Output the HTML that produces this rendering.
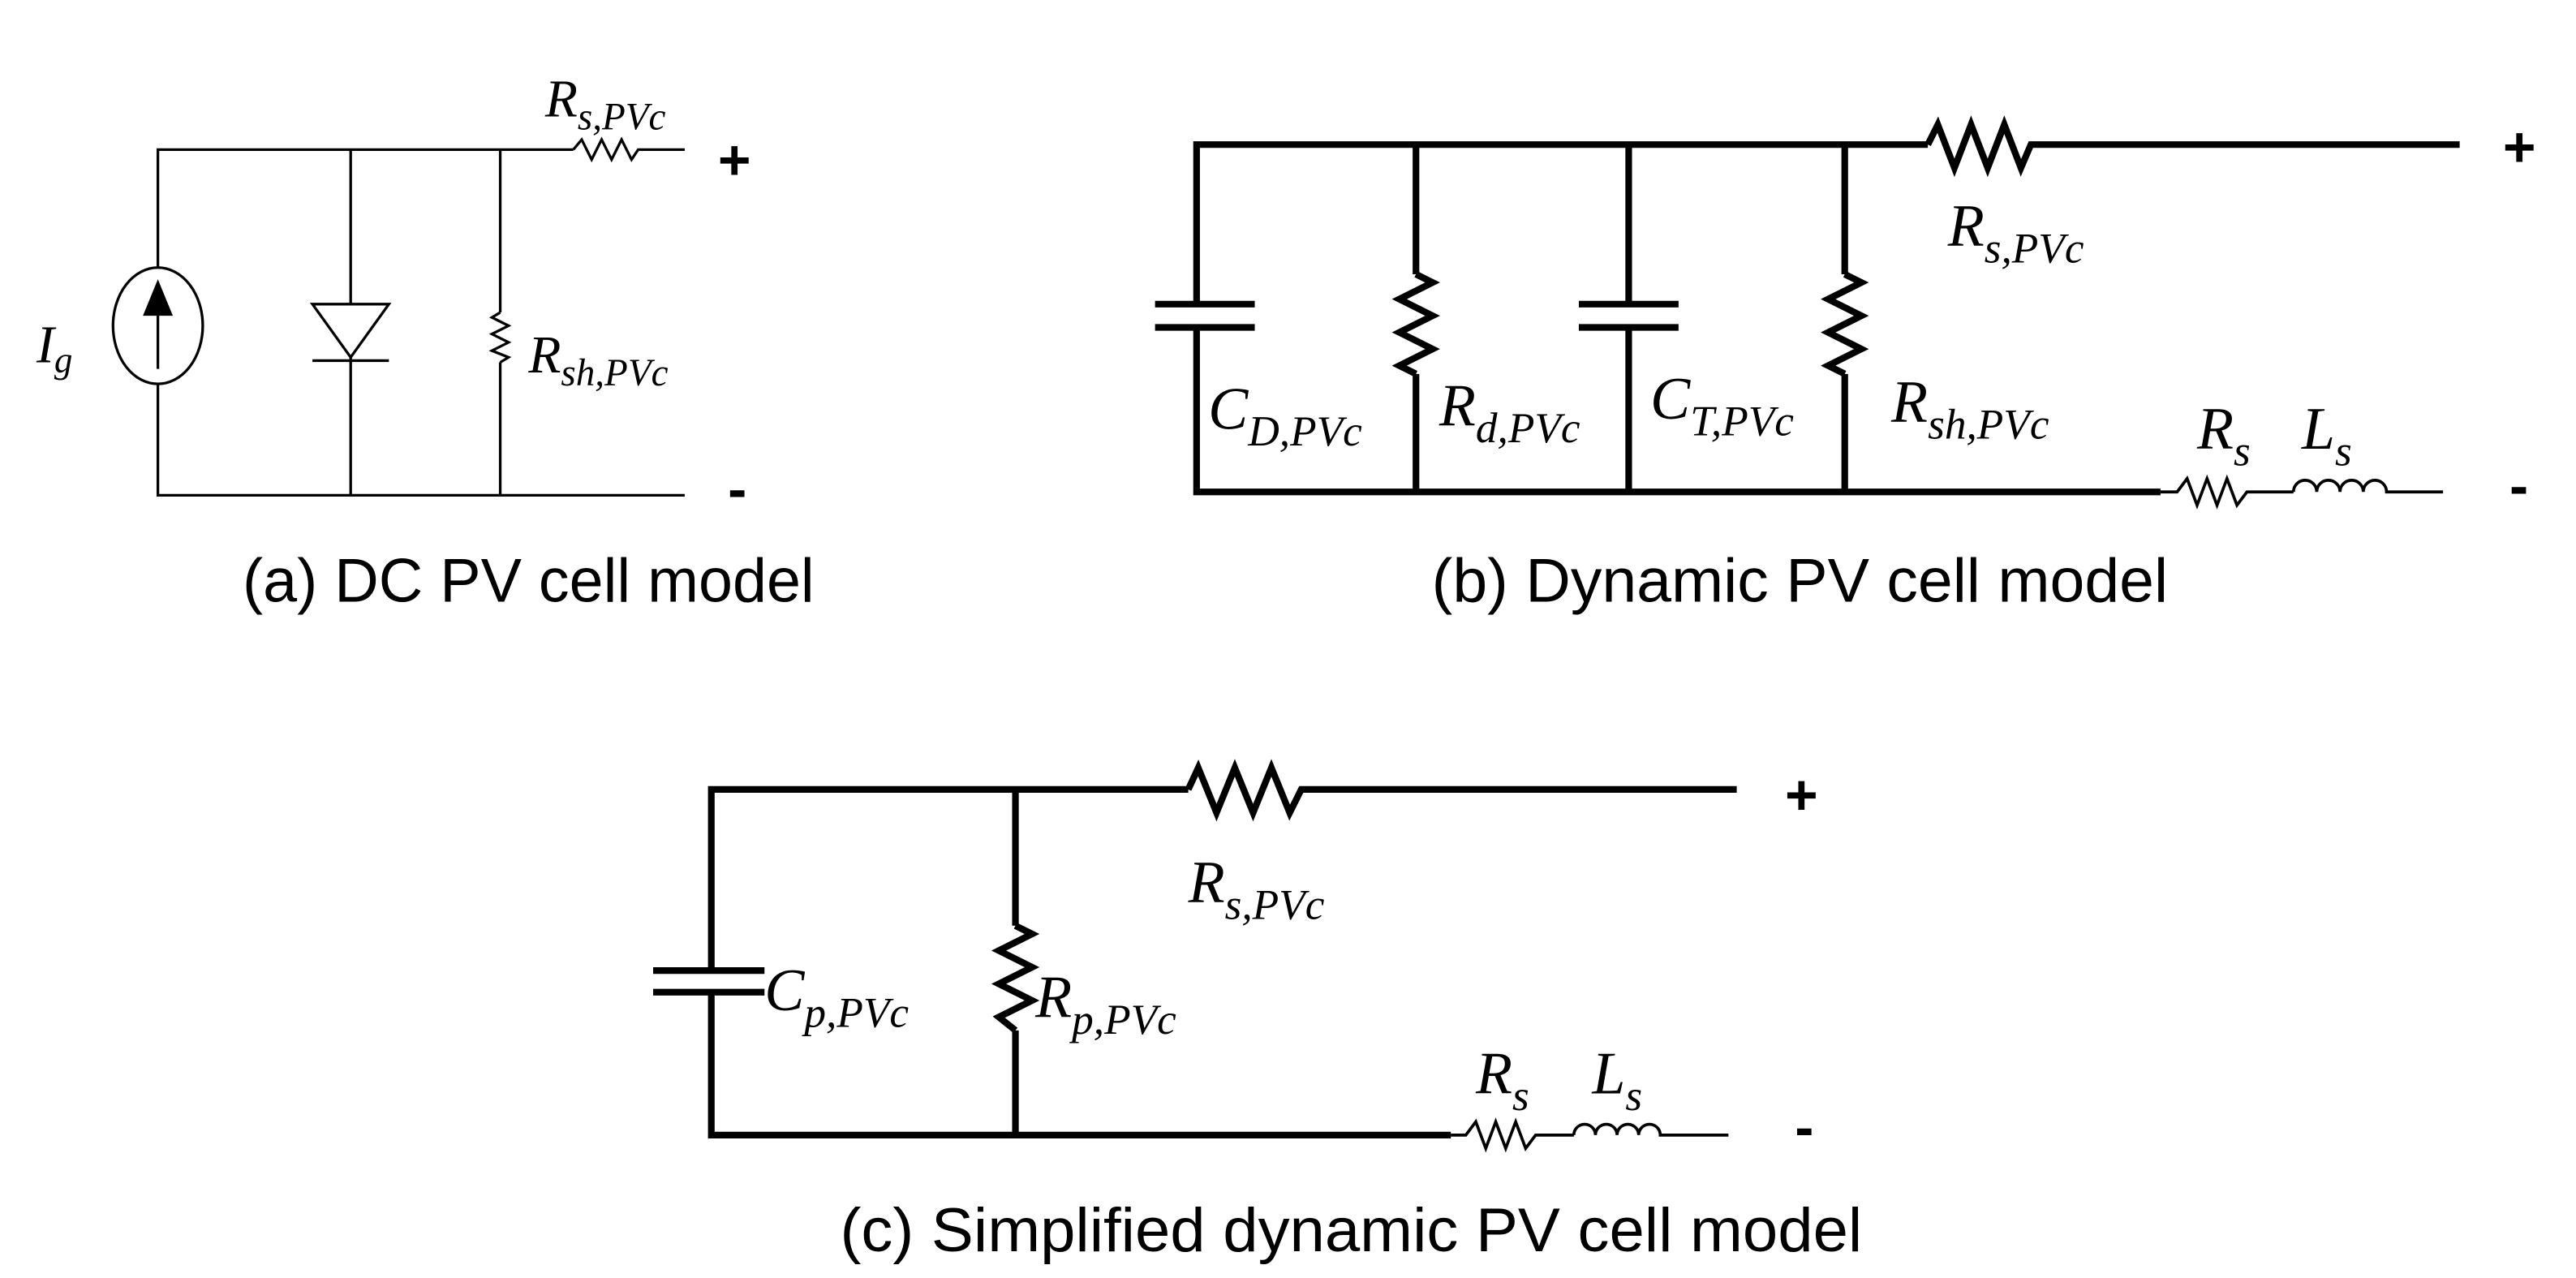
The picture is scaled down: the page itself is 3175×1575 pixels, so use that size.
<!DOCTYPE html>
<html><head><meta charset="utf-8"><style>
html,body{margin:0;padding:0;background:#fff;}
svg{display:block;}
.l{font-family:"Liberation Serif",serif;font-style:italic;fill:#000;}
.cap{font-family:"Liberation Sans",sans-serif;fill:#000;font-size:37px;}
.pm{font-family:"Liberation Sans",sans-serif;fill:#000;font-size:34px;font-weight:bold;}
</style></head><body>
<svg width="3175" height="1575" viewBox="0 0 1550 769" preserveAspectRatio="none" xmlns="http://www.w3.org/2000/svg">
<rect width="1550" height="769" fill="#fff"/>
<!-- (a) -->
<g stroke="#000" stroke-width="1.6" fill="none">
<polyline points="95,161 95,90 345,90"/>
<polyline points="95,231 95,298 412,298"/>
<line x1="211" y1="90" x2="211" y2="183"/>
<line x1="211" y1="215" x2="211" y2="298"/>
<line x1="301" y1="90" x2="301" y2="188"/>
<line x1="301" y1="218" x2="301" y2="298"/>
<polyline points="301,188 296,191 306,196 296,201 306,206 296,211 306,215 301,218"/>
<polyline points="345,90 350,84 356,96 362,84 368,96 374,84 380,96 384,90 412,90"/>
<ellipse cx="95" cy="196" rx="27" ry="35"/>
<line x1="95" y1="175" x2="95" y2="222"/>
<polygon points="188,183 234,183 211,215"/>
<line x1="188" y1="217" x2="234" y2="217"/>
</g>
<polygon points="95,168 86,190 104,190" fill="#000"/>
<text class="l" x="22" y="218" font-size="32">I<tspan font-size="22" dy="6">g</tspan></text>
<text class="l" x="328" y="70" font-size="32">R<tspan font-size="23" dy="8">s,PVc</tspan></text>
<text class="l" x="318" y="224" font-size="32">R<tspan font-size="23" dy="8">sh,PVc</tspan></text>
<text class="pm" x="432" y="108">+</text>
<text class="pm" x="438" y="306">-</text>
<text class="cap" x="318" y="362" text-anchor="middle" textLength="344" lengthAdjust="spacingAndGlyphs">(a) DC PV cell model</text>

<!-- (b) -->
<g stroke="#000" stroke-width="4" fill="none">
<polyline points="720,183 720,87 1160,87"/>
<polyline points="720,197 720,296 1300,296"/>
<line x1="695" y1="183" x2="755" y2="183"/>
<line x1="695" y1="197" x2="755" y2="197"/>
<line x1="852" y1="87" x2="852" y2="165"/>
<line x1="852" y1="225" x2="852" y2="296"/>
<polyline points="852,165 862,170 842,180 862,190 842,200 862,210 842,220 852,225"/>
<line x1="980" y1="87" x2="980" y2="183"/>
<line x1="980" y1="197" x2="980" y2="296"/>
<line x1="950" y1="183" x2="1010" y2="183"/>
<line x1="950" y1="197" x2="1010" y2="197"/>
<line x1="1110" y1="87" x2="1110" y2="165"/>
<line x1="1110" y1="225" x2="1110" y2="296"/>
<polyline points="1110,165 1120,170 1100,180 1120,190 1100,200 1120,210 1100,220 1110,225"/>
<polyline points="1160,87 1166,75 1176,101 1186,75 1196,101 1206,75 1216,101 1222,87 1480,87"/>
</g>
<g stroke="#000" stroke-width="1.8" fill="none">
<polyline points="1300,296 1310,296 1316,288 1322,304 1328,288 1334,304 1340,288 1346,304 1352,296 1380,296"/>
<path d="M1380,296 a7,7 0 0 1 14,0 a7,7 0 0 1 14,0 a7,7 0 0 1 14,0 a7,7 0 0 1 14,0 L1470,296"/>
</g>
<text class="l" x="727" y="258" font-size="36">C<tspan font-size="26" dy="10">D,PVc</tspan></text>
<text class="l" x="866" y="256" font-size="36">R<tspan font-size="26" dy="10">d,PVc</tspan></text>
<text class="l" x="993" y="252" font-size="36">C<tspan font-size="26" dy="10">T,PVc</tspan></text>
<text class="l" x="1138" y="254" font-size="36">R<tspan font-size="26" dy="10">sh,PVc</tspan></text>
<text class="l" x="1172" y="148" font-size="36">R<tspan font-size="26" dy="10">s,PVc</tspan></text>
<text class="l" x="1322" y="270" font-size="36">R<tspan font-size="26" dy="10">s</tspan></text>
<text class="l" x="1385" y="270" font-size="36">L<tspan font-size="26" dy="10">s</tspan></text>
<text class="pm" x="1506" y="100">+</text>
<text class="pm" x="1510" y="304">-</text>
<text class="cap" x="1083" y="362" text-anchor="middle" textLength="443" lengthAdjust="spacingAndGlyphs">(b) Dynamic PV cell model</text>

<!-- (c) -->
<g stroke="#000" stroke-width="4" fill="none">
<polyline points="428,584 428,475 715,475"/>
<polyline points="428,597 428,683 873,683"/>
<line x1="393" y1="584" x2="460" y2="584"/>
<line x1="393" y1="597" x2="460" y2="597"/>
<line x1="611" y1="475" x2="611" y2="557"/>
<line x1="611" y1="620" x2="611" y2="683"/>
<polyline points="611,557 621,562 601,572 621,582 601,592 621,602 601,612 611,620"/>
<polyline points="715,475 721,462 732,489 743,462 754,489 765,462 776,489 783,475 1045,475"/>
</g>
<g stroke="#000" stroke-width="1.8" fill="none">
<polyline points="873,683 882,683 888,675 894,691 900,675 906,691 912,675 918,691 924,683 947,683"/>
<path d="M947,683 a6.5,6.5 0 0 1 13,0 a6.5,6.5 0 0 1 13,0 a6.5,6.5 0 0 1 13,0 a6.5,6.5 0 0 1 13,0 L1040,683"/>
</g>
<text class="l" x="460" y="608" font-size="36">C<tspan font-size="26" dy="10">p,PVc</tspan></text>
<text class="l" x="623" y="612" font-size="36">R<tspan font-size="26" dy="10">p,PVc</tspan></text>
<text class="l" x="715" y="543" font-size="36">R<tspan font-size="26" dy="10">s,PVc</tspan></text>
<text class="l" x="888" y="658" font-size="36">R<tspan font-size="26" dy="10">s</tspan></text>
<text class="l" x="958" y="658" font-size="36">L<tspan font-size="26" dy="10">s</tspan></text>
<text class="pm" x="1074" y="490">+</text>
<text class="pm" x="1080" y="690">-</text>
<text class="cap" x="813" y="753" text-anchor="middle" textLength="615" lengthAdjust="spacingAndGlyphs">(c) Simplified dynamic PV cell model</text>
</svg>
</body></html>
